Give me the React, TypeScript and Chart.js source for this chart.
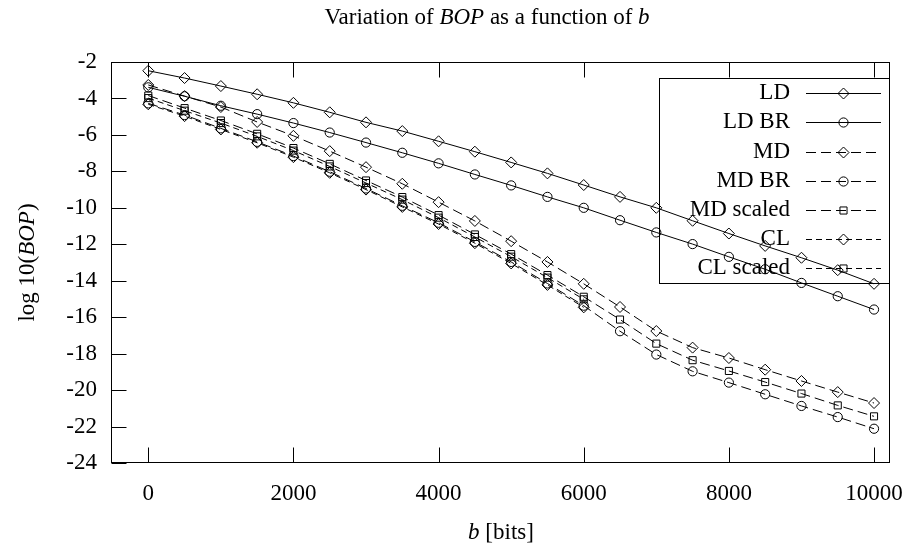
import React, { useEffect, useRef } from "react";
import { Chart, registerables } from "chart.js";

Chart.register(...registerables);

// ---- data ----
const bBits = [0, 500, 1000, 1500, 2000, 2500, 3000, 3500, 4000, 4500, 5000, 5500, 6000, 6500, 7000, 7500, 8000, 8500, 9000, 9500, 10000];

const ldValues = [-2.48, -2.88, -3.32, -3.77, -4.24, -4.76, -5.31, -5.79, -6.35, -6.92, -7.51, -8.11, -8.75, -9.40, -10.00, -10.71, -11.41, -12.09, -12.74, -13.42, -14.17];
const ldBrValues = [-3.39, -3.88, -4.40, -4.86, -5.35, -5.87, -6.42, -6.98, -7.56, -8.17, -8.77, -9.40, -10.00, -10.68, -11.35, -11.99, -12.69, -13.37, -14.12, -14.85, -15.58];
const mdValues = [-3.26, -3.87, -4.47, -5.29, -6.05, -6.89, -7.77, -8.68, -9.69, -10.72, -11.83, -12.97, -14.17, -15.44, -16.76, -17.67, -18.24, -18.88, -19.50, -20.11, -20.71];
const mdBrValues = [-4.27, -4.91, -5.64, -6.38, -7.16, -8.02, -8.94, -9.89, -10.82, -11.87, -12.97, -14.15, -15.37, -16.77, -18.05, -18.97, -19.59, -20.23, -20.87, -21.48, -22.12];
const mdScaledValues = [-3.84, -4.53, -5.21, -5.94, -6.72, -7.59, -8.50, -9.41, -10.40, -11.46, -12.54, -13.69, -14.88, -16.13, -17.45, -18.36, -18.95, -19.56, -20.19, -20.84, -21.44];
const clValues = [-4.32, -4.97, -5.70, -6.43, -7.22, -8.08, -9.00, -9.95, -10.89, -11.94, -13.05, -14.23, -15.46];
const clScaledValues = [-3.98, -4.67, -5.35, -6.08, -6.86, -7.73, -8.64, -9.55, -10.54, -11.60, -12.68, -13.83, -15.02];

const seriesLabels = ["LD", "LD BR", "MD", "MD BR", "MD scaled", "CL", "CL scaled"];

const xTickValues = [0, 2000, 4000, 6000, 8000, 10000];
const yTickValues = [-2, -4, -6, -8, -10, -12, -14, -16, -18, -20, -22, -24];

const titleParts: [string, boolean][] = [["Variation of ", false], ["BOP", true], [" as a function of ", false], ["b", true]];
const yTitleParts: [string, boolean][] = [["log 10(", false], ["BOP", true], [")", false]];
const xTitleParts: [string, boolean][] = [["b", true], [" [bits]", false]];

// ---- styling ----
const FONT_FAMILY = '"Liberation Serif", "Times New Roman", serif';
const FONT_SIZE = 23;

function toPoints(values: number[]) {
  return values.map((v, i) => ({ x: bBits[i], y: v }));
}

function drawRich(ctx: CanvasRenderingContext2D, parts: [string, boolean][], cx: number, cy: number, size: number) {
  const widths = parts.map(([t, it]) => {
    ctx.font = `${it ? "italic " : ""}${size}px ${FONT_FAMILY}`;
    return ctx.measureText(t).width;
  });
  const total = widths.reduce((a, b) => a + b, 0);
  let x = cx - total / 2;
  ctx.textAlign = "left";
  ctx.textBaseline = "middle";
  ctx.fillStyle = "#000";
  parts.forEach(([t, it], i) => {
    ctx.font = `${it ? "italic " : ""}${size}px ${FONT_FAMILY}`;
    ctx.fillText(t, x, cy);
    x += widths[i];
  });
}

function drawMarker(ctx: CanvasRenderingContext2D, style: string, x: number, y: number, r: number) {
  ctx.beginPath();
  if (style === "circle") {
    ctx.arc(x, y, r, 0, Math.PI * 2);
  } else if (style === "rectRot") {
    ctx.moveTo(x, y - r);
    ctx.lineTo(x + r, y);
    ctx.lineTo(x, y + r);
    ctx.lineTo(x - r, y);
    ctx.closePath();
  } else {
    const s = r * Math.SQRT1_2;
    ctx.rect(x - s, y - s, 2 * s, 2 * s);
  }
  ctx.stroke();
}

const gnuplotPlugin = {
  id: "gnuplotDecor",
  beforeDatasetsDraw(chart: any) {
    const ctx: CanvasRenderingContext2D = chart.ctx;
    const { left, right, top, bottom } = chart.chartArea;
    const xs = chart.scales.x;
    const ys = chart.scales.y;
    const L = Math.round(left) - 0.5;
    const R = Math.round(right) - 0.5;
    const T = Math.round(top) + 0.5;
    const B = Math.round(bottom) - 0.5;
    ctx.save();
    ctx.strokeStyle = "#000";
    ctx.lineWidth = 1;
    ctx.setLineDash([]);
    // frame
    ctx.strokeRect(L, T, R - L, B - T);
    // ticks (inward)
    const tl = 15;
    ctx.beginPath();
    xTickValues.forEach((v) => {
      const px = Math.round(xs.getPixelForValue(v)) + 0.5;
      ctx.moveTo(px, B);
      ctx.lineTo(px, B - tl);
      ctx.moveTo(px, T);
      ctx.lineTo(px, T + tl);
    });
    yTickValues.forEach((v) => {
      const py = Math.round(ys.getPixelForValue(v)) + 0.5;
      ctx.moveTo(L, py);
      ctx.lineTo(L + tl, py);
    });
    ctx.stroke();

    // legend box
    const box = { l: 659.5, t: 78.5, r: R, b: 283.5 };
    ctx.strokeRect(box.l, box.t, box.r - box.l, box.b - box.t);
    chart.data.datasets.forEach((ds: any, i: number) => {
      const y = 93.3 + i * 29.1;
      ctx.font = `${FONT_SIZE}px ${FONT_FAMILY}`;
      ctx.textAlign = "right";
      ctx.textBaseline = "middle";
      ctx.fillStyle = "#000";
      ctx.fillText(ds.label, 790, y);
      ctx.setLineDash(ds.borderDash || []);
      ctx.beginPath();
      ctx.moveTo(806, Math.round(y) + 0.5);
      ctx.lineTo(881, Math.round(y) + 0.5);
      ctx.stroke();
      ctx.setLineDash([]);
      drawMarker(ctx, ds.pointStyle, 843.5, Math.round(y) + 0.5, ds.pointRadius);
    });
    ctx.restore();
  },
  afterDraw(chart: any) {
    const ctx: CanvasRenderingContext2D = chart.ctx;
    const { left, right } = chart.chartArea;
    ctx.save();
    drawRich(ctx, titleParts, 487, 18, FONT_SIZE);
    drawRich(ctx, xTitleParts, (left + right) / 2, 533, FONT_SIZE);
    ctx.translate(28, (chart.chartArea.top + chart.chartArea.bottom) / 2);
    ctx.rotate(-Math.PI / 2);
    drawRich(ctx, yTitleParts, 0, 0, FONT_SIZE);
    ctx.restore();
  },
};

export default function App() {
  const canvasRef = useRef<HTMLCanvasElement | null>(null);

  useEffect(() => {
    document.body.style.margin = "0";
    const canvas = canvasRef.current;
    if (!canvas) return;

    const mk = (label: string, values: number[], pointStyle: string, radius: number, dash: number[]) => ({
      label,
      data: toPoints(values),
      borderColor: "#000",
      backgroundColor: "rgba(0,0,0,0)",
      borderWidth: 1,
      borderDash: dash,
      pointStyle,
      pointRadius: radius,
      pointHoverRadius: radius,
      pointBorderWidth: 1,
      pointBorderColor: "#000",
      pointBackgroundColor: "rgba(0,0,0,0)",
      fill: false,
      tension: 0,
    });

    const longDash = [10, 5];
    const shortDash = [6, 4];

    const chart = new Chart(canvas, {
      type: "line",
      data: {
        datasets: [
          mk(seriesLabels[0], ldValues, "rectRot", 5.5, []),
          mk(seriesLabels[1], ldBrValues, "circle", 4.6, []),
          mk(seriesLabels[2], mdValues, "rectRot", 5.5, longDash),
          mk(seriesLabels[3], mdBrValues, "circle", 4.6, longDash),
          mk(seriesLabels[4], mdScaledValues, "rect", 5, longDash),
          mk(seriesLabels[5], clValues, "rectRot", 5.5, shortDash),
          mk(seriesLabels[6], clScaledValues, "rect", 5, shortDash),
        ] as any,
      },
      options: {
        animation: false,
        responsive: false,
        maintainAspectRatio: false,
        layout: { padding: { top: 62, right: 20, bottom: 0, left: 0 } },
        plugins: {
          legend: { display: false },
          title: { display: false },
          tooltip: { enabled: false },
        },
        scales: {
          x: {
            type: "linear",
            min: -500,
            max: 10220,
            grid: { display: false, drawTicks: false },
            border: { display: false },
            ticks: {
              color: "#000",
              font: { family: FONT_FAMILY, size: FONT_SIZE },
              padding: 17,
              autoSkip: false,
              maxRotation: 0,
              callback: (v: any) => String(v),
            },
            afterBuildTicks: (s: any) => {
              s.ticks = xTickValues.map((v) => ({ value: v }));
            },
            afterFit: (s: any) => {
              s.height = 86;
              s.paddingLeft = 0;
              s.paddingRight = 0;
            },
          },
          y: {
            type: "linear",
            min: -24,
            max: -2,
            grid: { display: false, drawTicks: false },
            border: { display: false },
            ticks: {
              color: "#000",
              font: { family: FONT_FAMILY, size: FONT_SIZE },
              padding: 15,
              autoSkip: false,
              callback: (v: any) => String(v),
            },
            afterBuildTicks: (s: any) => {
              s.ticks = yTickValues.map((v) => ({ value: v }));
            },
            afterFit: (s: any) => {
              s.width = 112;
              s.paddingTop = 0;
              s.paddingBottom = 0;
            },
          },
        },
      } as any,
      plugins: [gnuplotPlugin as any],
    });

    return () => chart.destroy();
  }, []);

  return (
    <div style={{ width: 910, height: 549, background: "#fff" }}>
      <canvas ref={canvasRef} width={910} height={549} style={{ display: "block" }} />
    </div>
  );
}
